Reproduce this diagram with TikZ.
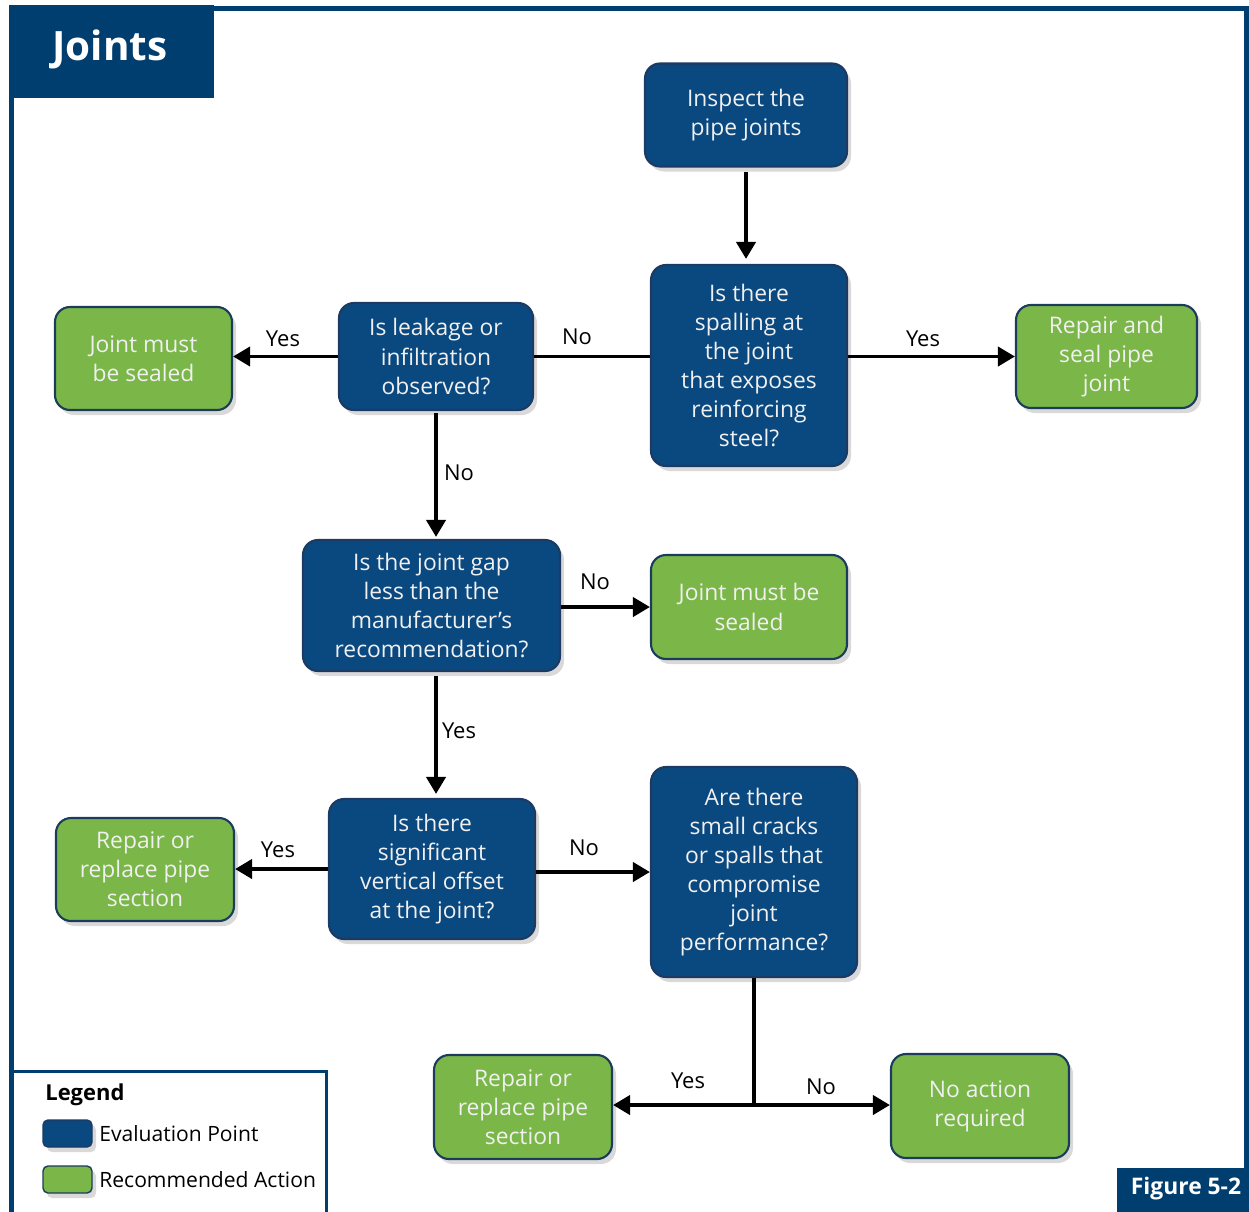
\documentclass[tikz,border=0pt]{standalone}
\usepackage{fontspec}
\setmainfont{Open Sans}
\usetikzlibrary{arrows.meta,shadows}
\definecolor{frameblue}{RGB}{0,62,112}
\definecolor{evalfill}{RGB}{10,72,128}
\definecolor{evaldraw}{RGB}{28,58,98}
\definecolor{actfill}{RGB}{122,182,72}
\definecolor{actdraw}{RGB}{28,60,92}
\definecolor{nodetext}{RGB}{240,240,240}
\tikzset{
  box/.style={rectangle, rounded corners=0.3cm, line width=1.2pt, align=center,
    text=nodetext, font=\fontsize{13}{16.6}\selectfont, inner sep=0pt,
    drop shadow={shadow xshift=0.08cm, shadow yshift=-0.1cm, opacity=0.3}},
  evalbox/.style={box, fill=evalfill, draw=evaldraw},
  actbox/.style={box, fill=actfill, draw=actdraw},
  conn/.style={line width=2.2pt, black},
  arr/.style={conn, -{Triangle[length=0.34cm,width=0.38cm]}},
  lbl/.style={font=\fontsize{12.5}{14}\selectfont, text=black, inner sep=0pt},
  leglbl/.style={font=\fontsize{12}{14}\selectfont, text=black, inner sep=0pt},
  framefill/.style={fill=frameblue, draw=none},
}
\begin{document}
\begin{tikzpicture}
\useasboundingbox (0,0) rectangle (24.98,-24.22);
% frame
\draw[frameblue, line width=0.1cm] (0.22,-24.3) -- (0.22,-0.18) -- (24.92,-0.18) -- (24.92,-24.3);
\node[framefill, minimum width=4.1cm, minimum height=1.86cm, anchor=north west, inner sep=0pt] (title) at (0.17,-0.1) {};
\node[text=white, font=\bfseries\fontsize{23}{26}\selectfont] (titletext) at (2.2,-0.98) {Joints};

% nodes
\node[evalbox, minimum width=4.04cm, minimum height=2.06cm] (insp) at (14.92,-2.30) {Inspect the\\pipe joints};
\node[evalbox, minimum width=3.92cm, minimum height=4.02cm] (spal) at (14.98,-7.31) {Is there\\spalling at\\the joint\\that exposes\\reinforcing\\steel?};
\node[evalbox, minimum width=3.88cm, minimum height=2.14cm] (leak) at (8.72,-7.13) {Is leakage or\\infiltration\\observed?};
\node[actbox, minimum width=3.54cm, minimum height=2.06cm] (seal1) at (2.87,-7.17) {Joint must\\be sealed};
\node[actbox, minimum width=3.62cm, minimum height=2.06cm] (rseal) at (22.13,-7.13) {Repair and\\seal pipe\\joint};
\node[evalbox, minimum width=5.14cm, minimum height=2.62cm] (gap) at (8.63,-12.11) {Is the joint gap\\less than the\\manufacturer’s\\recommendation?};
\node[actbox, minimum width=3.92cm, minimum height=2.08cm] (seal2) at (14.98,-12.14) {Joint must be\\sealed};
\node[evalbox, minimum width=4.12cm, minimum height=2.80cm] (voff) at (8.64,-17.38) {Is there\\significant\\vertical offset\\at the joint?};
\node[actbox, minimum width=3.56cm, minimum height=2.06cm] (rep1) at (2.90,-17.39) {Repair or\\replace pipe\\section};
\node[evalbox, minimum width=4.12cm, minimum height=4.20cm] (crack) at (15.08,-17.44) {Are there\\small cracks\\or spalls that\\compromise\\joint\\performance?};
\node[actbox, minimum width=3.56cm, minimum height=2.08cm] (rep2) at (10.46,-22.14) {Repair or\\replace pipe\\section};
\node[actbox, minimum width=3.56cm, minimum height=2.08cm] (noact) at (19.60,-22.12) {No action\\required};

% connectors
\draw[arr, shorten <=0.08cm, shorten >=0.1cm] (insp.south) -- (insp.south |- spal.north);
\draw[conn] (leak.east) -- (leak.east -| spal.west);
\draw[arr] (rseal.west -| spal.east) -- (rseal.west);
\draw[arr] (leak.west) -- (leak.west -| seal1.east);
\draw[arr, shorten <=0.04cm, shorten >=0.04cm] (leak.south) -- (leak.south |- gap.north);
\draw[arr] (gap.east |- seal2.west) -- (seal2.west);
\draw[arr, shorten <=0.08cm, shorten >=0.08cm] (gap.south -| leak.south) -- (leak.south |- voff.north);
\draw[arr] (voff.west) -- (voff.west -| rep1.east);
\draw[arr] (voff.east |- 0,-17.44) -- (crack.west);
\coordinate (junc) at (15.08,-22.10);
\draw[conn] (crack.south) -- (junc);
\draw[arr] (junc) -- (junc -| rep2.east);
\draw[arr] (junc) -- (junc -| noact.west);

% labels
\node[lbl] (l1) at (11.54,-6.74) {No};
\node[lbl] (l2) at (18.46,-6.78) {Yes};
\node[lbl] (l3) at (5.66,-6.78) {Yes};
\node[lbl] (l4) at (9.18,-9.46) {No};
\node[lbl] (l5) at (11.9,-11.64) {No};
\node[lbl] (l6) at (9.18,-14.62) {Yes};
\node[lbl] (l7) at (5.56,-17.0) {Yes};
\node[lbl] (l8) at (11.68,-16.96) {No};
\node[lbl] (l9) at (13.76,-21.62) {Yes};
\node[lbl] (l10) at (16.42,-21.74) {No};

% legend
\draw[frameblue, line width=0.06cm] (0.22,-21.42) -- (6.52,-21.42) -- (6.52,-24.3);
\node[leglbl, font=\bfseries\fontsize{12.5}{15}\selectfont, anchor=west] (legtitle) at (0.9,-21.9) {Legend};
\node[evalbox, rounded corners=0.1cm, line width=0.8pt, minimum width=0.98cm, minimum height=0.54cm] (legeval) at (1.35,-22.67) {};
\node[actbox, rounded corners=0.1cm, line width=0.8pt, minimum width=0.98cm, minimum height=0.54cm] (legact) at (1.35,-23.59) {};
\node[leglbl, anchor=west] (legevaltext) at (1.98,-22.67) {Evaluation Point};
\node[leglbl, anchor=west] (legacttext) at (1.98,-23.59) {Recommended Action};

% figure number
\node[framefill, minimum width=2.7cm, minimum height=0.88cm, anchor=north west, inner sep=0pt] (figbox) at (22.34,-23.36) {};
\node[text=white, font=\bfseries\fontsize{13}{15}\selectfont] (figtext) at (23.72,-23.78) {Figure 5-2};
\end{tikzpicture}
\end{document}
